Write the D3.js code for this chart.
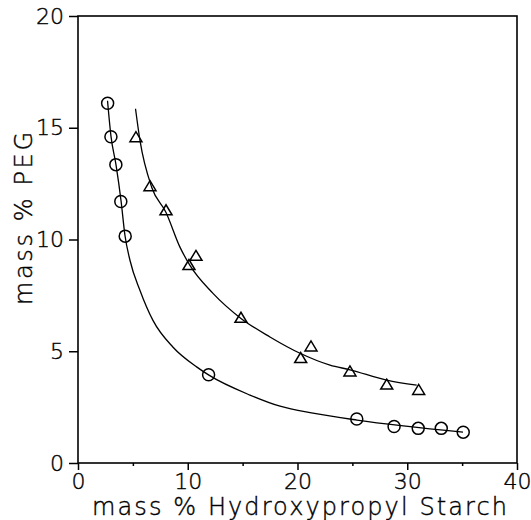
<!DOCTYPE html>
<html>
<head>
<meta charset="utf-8">
<script src="https://cdn.jsdelivr.net/npm/d3@7"></script>
<style>
  body { margin: 0; background: #fff; }
  text { font-family: "DejaVu Sans", sans-serif; font-weight: 200; fill: #000; stroke: #000; stroke-width: 0.4px; }
</style>
</head>
<body>
<div id="chart"></div>
<script>
// measured points, circles (series 1)
let circX = [2.7, 3.0, 3.45, 3.9, 4.3, 11.9, 25.4, 28.8, 31.0, 33.1, 35.1];
let circY = [16.1, 14.6, 13.35, 11.7, 10.15, 3.95, 1.97, 1.63, 1.55, 1.55, 1.38];

// measured points, triangles (series 2)
let triX = [5.28, 6.56, 8.02, 10.11, 10.75, 14.85, 20.29, 21.23, 24.78, 28.13, 31.04];
let triY = [14.6, 12.41, 11.33, 8.88, 9.29, 6.52, 4.72, 5.24, 4.12, 3.53, 3.29];

// fitted curves
let circFitX = [2.69, 3.01, 3.46, 3.92, 4.28, 4.74, 5.65, 6.83, 8.66, 10.84, 11.93, 15.67, 18.41, 21.41, 25.42, 35.08];
let circFitY = [16.21, 14.6, 13.35, 11.74, 10.18, 9.06, 7.72, 6.38, 5.18, 4.29, 3.93, 3.04, 2.54, 2.23, 1.92, 1.38];
let triFitX = [5.24, 5.65, 6.72, 8.02, 9.29, 10.2, 12.3, 14.85, 17.49, 20.23, 22.96, 24.78, 28.13, 30.86];
let triFitY = [15.85, 14.42, 12.33, 11.21, 9.66, 8.84, 7.59, 6.47, 5.64, 4.91, 4.38, 4.17, 3.71, 3.48];

let xTicks = [0, 10, 20, 30, 40];
let xMinor = [5, 15, 25, 35];
let yTicks = [0, 5, 10, 15, 20];

let svgWidth = 531;
let svgHeight = 520;
let margin = { top: 16, right: 14, bottom: 57, left: 78 };
let width = svgWidth - margin.left - margin.right;
let height = svgHeight - margin.top - margin.bottom;

let svg = d3.select("#chart")
  .append("svg")
  .attr("width", svgWidth)
  .attr("height", svgHeight);

let chartGroup = svg.append("g")
  .attr("transform", `translate(${margin.left}, ${margin.top})`);

let xScale = d3.scaleLinear().domain([0, 40]).range([0, width]);
let yScale = d3.scaleLinear().domain([0, 20]).range([height, 0]);

// axes
let bottomAxis = d3.axisBottom(xScale).tickValues(xTicks).tickSize(7).tickPadding(3).tickFormat(d3.format("d"));
let minorAxis = d3.axisBottom(xScale).tickValues(xMinor).tickSize(3).tickFormat("");
let leftAxis = d3.axisLeft(yScale).tickValues(yTicks).tickSize(9).tickPadding(5).tickFormat(d3.format("d"));

let gx = chartGroup.append("g")
  .attr("transform", `translate(0, ${height})`)
  .call(bottomAxis);
let gm = chartGroup.append("g")
  .attr("transform", `translate(0, ${height})`)
  .call(minorAxis);
let gy = chartGroup.append("g").call(leftAxis);

[gx, gm, gy].forEach(g => {
  g.select(".domain").remove();
  g.selectAll("line").attr("stroke", "#000").attr("stroke-width", 1.5);
  g.selectAll("text").attr("font-size", "22px").attr("font-family", null).attr("fill", "#000");
});

// frame
chartGroup.append("rect")
  .attr("width", width)
  .attr("height", height)
  .attr("fill", "none")
  .attr("stroke", "#000")
  .attr("stroke-width", 1.6);

// fitted curves
let line = d3.line()
  .x(d => xScale(d[0]))
  .y(d => yScale(d[1]))
  .curve(d3.curveMonotoneX);

chartGroup.append("path")
  .datum(circFitX.map((x, i) => [x, circFitY[i]]))
  .attr("d", line)
  .attr("fill", "none")
  .attr("stroke", "#000")
  .attr("stroke-width", 1.3);

chartGroup.append("path")
  .datum(triFitX.map((x, i) => [x, triFitY[i]]))
  .attr("d", line)
  .attr("fill", "none")
  .attr("stroke", "#000")
  .attr("stroke-width", 1.3);

// circle markers
chartGroup.selectAll(".circ")
  .data(circX.map((x, i) => [x, circY[i]]))
  .enter()
  .append("circle")
  .attr("class", "circ")
  .attr("cx", d => xScale(d[0]))
  .attr("cy", d => yScale(d[1]))
  .attr("r", 6)
  .attr("fill", "none")
  .attr("stroke", "#000")
  .attr("stroke-width", 1.5);

// triangle markers
chartGroup.selectAll(".tri")
  .data(triX.map((x, i) => [x, triY[i]]))
  .enter()
  .append("path")
  .attr("class", "tri")
  .attr("d", d => {
    let cx = xScale(d[0]), cy = yScale(d[1]);
    return `M${cx - 6},${cy + 5}L${cx + 6},${cy + 5}L${cx},${cy - 5}Z`;
  })
  .attr("fill", "none")
  .attr("stroke", "#000")
  .attr("stroke-width", 1.5);

// axis titles
svg.append("text")
  .attr("x", 92)
  .attr("y", 515)
  .attr("font-size", "24px")
  .attr("textLength", 415)
  .attr("lengthAdjust", "spacing")
  .text("mass % Hydroxypropyl Starch");

svg.append("text")
  .attr("transform", "translate(32, 305) rotate(-90)")
  .attr("font-size", "24px")
  .attr("textLength", 173)
  .attr("lengthAdjust", "spacing")
  .text("mass % PEG");
</script>
</body>
</html>
